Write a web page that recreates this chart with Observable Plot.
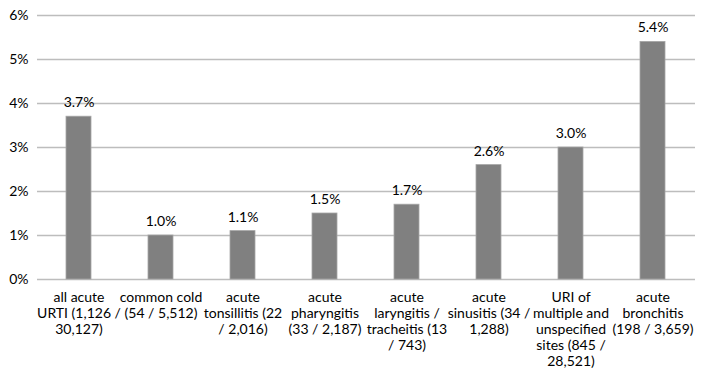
<!DOCTYPE html>
<html>
<head>
<meta charset="utf-8">
<script src="https://cdn.jsdelivr.net/npm/d3@7"></script>
<script src="https://cdn.jsdelivr.net/npm/@observablehq/plot@0.6"></script>
<style>
  html, body { margin: 0; padding: 0; background: #fff; }
  #chart svg { display: block; font-family: Lato, "Liberation Sans", sans-serif; }
</style>
</head>
<body>
<div id="chart"></div>
<script>
const categories = [
  "all acute\nURTI (1,126 /\n30,127)",
  "common cold\n(54 / 5,512)",
  "acute\ntonsillitis (22\n/ 2,016)",
  "acute\npharyngitis\n(33 / 2,187)",
  "acute\nlaryngitis /\ntracheitis (13\n/ 743)",
  "acute\nsinusitis (34 /\n1,288)",
  "URI of\nmultiple and\nunspecified\nsites (845 /\n28,521)",
  "acute\nbronchitis\n(198 / 3,659)"
];
const values = [0.037, 0.010, 0.011, 0.015, 0.017, 0.026, 0.030, 0.054];
const yTicks = [0, 0.01, 0.02, 0.03, 0.04, 0.05, 0.06];

const data = categories.map((c, i) => ({category: c, value: values[i]}));

const chart = Plot.plot({
  width: 709,
  height: 384,
  marginTop: 15,
  marginBottom: 105,
  marginLeft: 37,
  marginRight: 14,
  style: {fontSize: "14px", fontFamily: "Lato, 'Liberation Sans', sans-serif", color: "#000"},
  x: {domain: categories, paddingInner: 0.69, paddingOuter: 0.345, label: null},
  y: {domain: [0, 0.06], label: null},
  marks: [
    Plot.ruleY(yTicks, {stroke: "#bdbdbd", strokeWidth: 1.4}),
    Plot.barY(data, {x: "category", y: "value", fill: "#808080", stroke: "#a6a6a6", strokeWidth: 0.8}),
    Plot.text(data, {x: "category", y: "value", text: d => d3.format(".1%")(d.value), dy: -14, fill: "#000", fontSize: 14}),
    Plot.axisY({ticks: yTicks, tickFormat: d3.format(".0%"), tickSize: 0, tickPadding: 9, fontSize: 14, fill: "#000", label: null}),
    Plot.axisX({tickSize: 0, tickPadding: 11, fontSize: 14, lineHeight: 1.15, fill: "#000", label: null})
  ]
});
document.getElementById("chart").appendChild(chart);
</script>
</body>
</html>
